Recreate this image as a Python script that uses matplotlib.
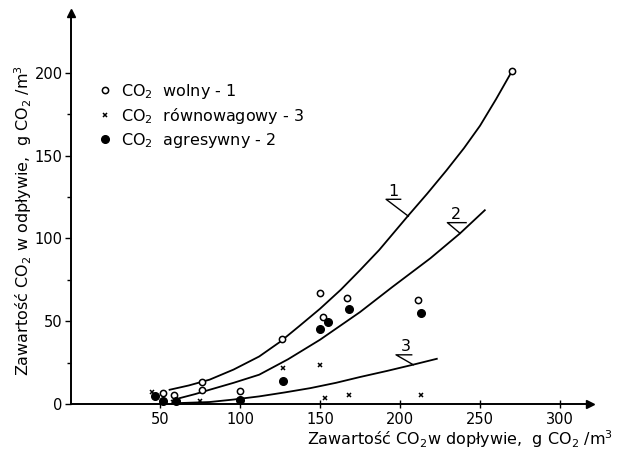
import matplotlib.pyplot as plt

# punkty pomiarowe
wolnyX = [52, 59, 76, 76, 100, 126, 150, 152, 167, 211, 270]
wolnyY = [6.8, 5.5, 13.5, 8.6, 7.6, 39, 67, 52.5, 64, 63, 201]

agresywnyX = [47, 52, 60, 100, 127, 150, 155, 168, 213]
agresywnyY = [5, 2, 2, 2.5, 13.6, 45, 49.5, 57.5, 55]

rownowagowyX = [45, 58, 75, 127, 150, 153, 168, 213]
rownowagowyY = [7.5, 1, 2, 21.5, 23.5, 3.4, 5.5, 5.6]

# krzywe 1, 2, 3 (odczytane punkty wzdluz linii)
curve1X = [56, 68, 81, 96, 112, 125, 137, 150, 163, 175, 187, 205, 217, 229, 240, 250, 260, 270]
curve1Y = [8.6, 11.2, 14.7, 20.8, 28.7, 37.5, 47, 57.5, 69, 80.8, 93, 113.6, 127, 141, 154.5, 168, 184, 201]

curve2X = [62.5, 72, 81, 96, 112, 130, 150, 175, 195, 219, 237.5, 253]
curve2Y = [3.6, 6, 8.6, 12.8, 17.7, 27, 38.8, 55.5, 70.5, 88, 103, 117]

curve3X = [60, 81, 96, 112, 128, 144, 160, 175, 192, 208, 223]
curve3Y = [0.5, 1.2, 2.7, 4.6, 7, 9.6, 12.8, 16.3, 20, 23.7, 27.3]

xTicks = [50, 100, 150, 200, 250, 300]
yTicks = [0, 50, 100, 150, 200]
yMinor = [25, 75, 125, 175]

plt.rcParams['font.family'] = 'DejaVu Sans'
plt.rcParams['mathtext.fontset'] = 'dejavusans'

fig = plt.figure(figsize=(6.29, 4.54), dpi=100)
ax = fig.add_axes([0.1129, 0.1101, 0.825, 0.861])

for cx, cy in [(curve1X, curve1Y), (curve2X, curve2Y), (curve3X, curve3Y)]:
    ax.plot(cx, cy, color='black', lw=1.3, solid_joinstyle='round')

ax.plot(wolnyX, wolnyY, 'o', mfc='white', mec='black', mew=1.1, ms=4.5,
        ls='none', clip_on=False, label='CO$_2$  wolny - 1')
ax.plot(rownowagowyX, rownowagowyY, 'x', color='black', mew=1.1, ms=3.5,
        ls='none', clip_on=False, label='CO$_2$  równowagowy - 3')
ax.plot(agresywnyX, agresywnyY, 'o', color='black', ms=5.5,
        ls='none', clip_on=False, label='CO$_2$  agresywny - 2')

# oznaczenia krzywych
labels = [('1', 195.8, 128.2, 191.3, 200.4, 123.6, 205.2, 113.4),
          ('2', 235.2, 114.3, 229.6, 241.3, 109.5, 237.5, 103.1),
          ('3', 203.8, 34.7, 197.5, 207.3, 29.7, 208.3, 23.7)]
for txt, tx, ty, bx0, bx1, by, cx, cy in labels:
    ax.text(tx, ty, txt, fontsize=11.5, ha='center', va='center')
    ax.plot([bx1, bx0, cx], [by, by, cy], color='black', lw=1.0)

ax.set_xlim(-5.6, 318.7)
ax.set_ylim(0, 236)
ax.set_xticks(xTicks)
ax.set_yticks(yTicks)
ax.set_yticks(yMinor, minor=True)
ax.tick_params(axis='both', labelsize=10.5, length=4, width=1, direction='out')
ax.tick_params(axis='y', pad=2)
ax.tick_params(axis='y', which='minor', length=3, width=1)
ax.tick_params(axis='x', direction='inout', length=6, pad=3)

for s in ['top', 'right']:
    ax.spines[s].set_visible(False)
for s in ['left', 'bottom']:
    ax.spines[s].set_linewidth(1.4)

# strzalki na koncach osi
ax.plot(1, 0, '>', color='black', ms=6, transform=ax.transAxes, clip_on=False)
ax.plot(0, 1, '^', color='black', ms=6, transform=ax.transAxes, clip_on=False)

ax.set_xlabel('Zawartość CO$_2$w dopływie,  g CO$_2$ /m$^3$', fontsize=11.5)
ax.xaxis.set_label_coords(0.75, -0.062)
ax.set_ylabel('Zawartość CO$_2$ w odpływie,  g CO$_2$ /m$^3$', fontsize=11.5)
ax.yaxis.set_label_coords(-0.072, 0.47)

ax.legend(loc='upper left', bbox_to_anchor=(0.04, 0.84), frameon=False,
          fontsize=11.5, handlelength=0.8, handletextpad=0.6, labelspacing=0.3,
          borderaxespad=0)

plt.savefig('out.png')
